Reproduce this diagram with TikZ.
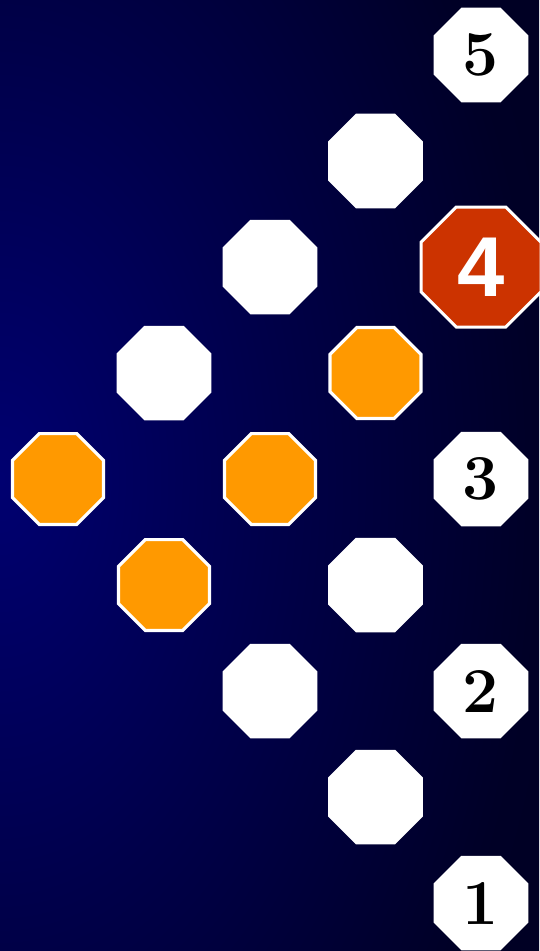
\documentclass[tikz,border=0pt]{standalone}
\usepackage{fontspec}
\newfontfamily\sansbold{Liberation Sans}
\usetikzlibrary{shapes.geometric}
\pgfdeclareradialshading{bgshade}{\pgfpoint{0bp}{0bp}}{rgb(0bp)=(0,0,0.44);rgb(270bp)=(0,0,0.29);rgb(540bp)=(0,0,0.15);rgb(800bp)=(0,0,0.11)}
\definecolor{octorange}{HTML}{FF9900}
\definecolor{octred}{HTML}{CC3300}
\tikzset{
  octo/.style={regular polygon, regular polygon sides=8, inner sep=0pt, outer sep=0pt},
  whiteocto/.style={octo, fill=white, draw=none, minimum size=102.3pt},
  orangeocto/.style={octo, fill=octorange, draw=white, line width=3.2pt, minimum size=98.3pt},
  redocto/.style={octo, fill=octred, draw=white, line width=3pt, minimum size=129.9pt},
  numlabel/.style={inner sep=0pt, font=\fontsize{64}{68}\selectfont\bfseries, text=black},
  biglabel/.style={inner sep=0pt, font=\fontsize{85}{90}\selectfont\sansbold\bfseries, text=white}
}
\begin{document}
\begin{tikzpicture}[x=1pt,y=-1pt]
\useasboundingbox (0,0) rectangle (539,951);
\begin{scope}
\clip (0,0) rectangle (539,951);
\begin{scope}[shift={(0,479)}, yscale=1.6]
\node[inner sep=0pt, transform shape] (bg) at (0,0) {\pgfuseshading{bgshade}};
\end{scope}
\end{scope}
% row 1
\node[whiteocto] (o5) at (481,55) {};
\node[numlabel] (t5) at (o5.center) {5};
% row 2
\node[whiteocto] (a2) at (375.5,161) {};
% row 3
\node[whiteocto] (a3) at (270,267) {};
\node[redocto] (o4) at (481,267) {};
\node[biglabel] (t4) at (o4.center) {4};
% row 4
\node[whiteocto] (a4) at (164,373) {};
\node[orangeocto] (b4) at (375.5,373) {};
% row 5
\node[orangeocto] (a5) at (58,479) {};
\node[orangeocto] (b5) at (270,479) {};
\node[whiteocto] (o3) at (481,479) {};
\node[numlabel] (t3) at (o3.center) {3};
% row 6
\node[orangeocto] (a6) at (164,585) {};
\node[whiteocto] (b6) at (375.5,585) {};
% row 7
\node[whiteocto] (a7) at (270,691) {};
\node[whiteocto] (o2) at (481,691) {};
\node[numlabel] (t2) at (o2.center) {2};
% row 8
\node[whiteocto] (a8) at (375.5,797) {};
% row 9
\node[whiteocto] (o1) at (481,903) {};
\node[numlabel] (t1) at (o1.center) {1};
\end{tikzpicture}
\end{document}
